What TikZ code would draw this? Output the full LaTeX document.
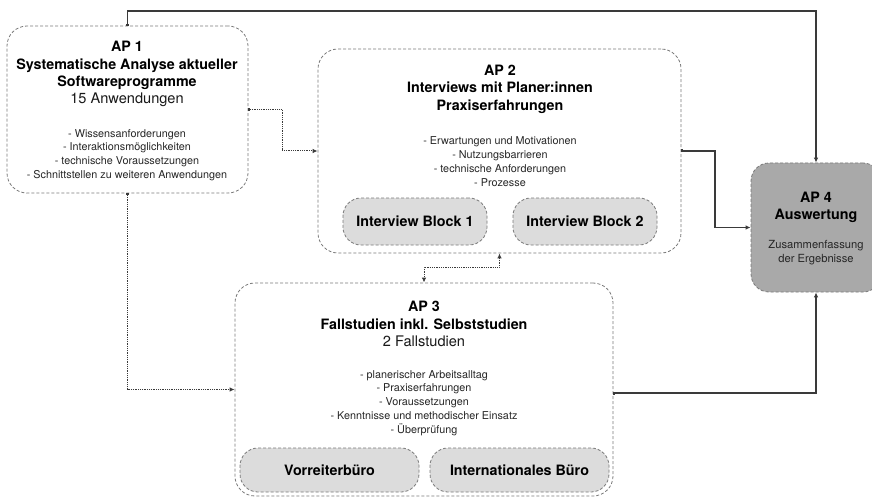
\documentclass[tikz,border=0pt]{standalone}
\usepackage{fontspec}
\setmainfont{TeX Gyre Heros}
\usetikzlibrary{arrows.meta}
\definecolor{bordergray}{HTML}{7A7A7A}
\definecolor{blockfill}{HTML}{DCDCDC}
\definecolor{apfourfill}{HTML}{A9A9A9}
\definecolor{linecol}{HTML}{3A3A3A}
\begin{document}
\begin{tikzpicture}[x=1pt,y=-1pt,
  apbox/.style={draw=bordergray, dash pattern=on 3pt off 2pt, line width=0.8pt, rounded corners=20pt, inner sep=0pt, fill=white},
  blockbox/.style={apbox, fill=blockfill, rounded corners=18pt},
  titletext/.style={font=\fontsize{14.3}{17.5}\selectfont\bfseries, align=center, inner sep=0pt},
  subtext/.style={font=\fontsize{14.6}{17}\selectfont, align=center, inner sep=0pt, text=black!90},
  itemtext/.style={font=\fontsize{10.8}{13.8}\selectfont, align=center, inner sep=0pt, text=black!85},
  smalltext/.style={font=\fontsize{11.2}{14}\selectfont, align=center, inner sep=0pt, text=black!85},
  solidcon/.style={draw=linecol, line width=1.1pt, {Square[length=2pt,width=3pt]}-{Latex[length=5pt,width=4.5pt]}},
  dotcon/.style={draw=linecol, line width=1pt, dash pattern=on 1pt off 0.8pt, {Square[length=2pt,width=3pt]}-{Latex[length=5pt,width=4.5pt]}},
  dotcontwo/.style={draw=linecol, line width=1pt, dash pattern=on 1pt off 0.8pt, {Latex[length=5pt,width=4.5pt]}-{Latex[length=5pt,width=4.5pt]}}
]
\fill[white] (0,0) rectangle (872,497);
\useasboundingbox (0,0) rectangle (872,497);
\clip (0,0) rectangle (872,497);

% boxes
\node[apbox, minimum width=241pt, minimum height=167pt] (ap1) at (127.5,109.5) {};
\node[apbox, minimum width=363pt, minimum height=204pt] (ap2) at (499.5,151) {};
\node[apbox, minimum width=378pt, minimum height=213pt] (ap3) at (424,389.5) {};
\node[apbox, fill=apfourfill, rounded corners=18pt, minimum width=130pt, minimum height=129pt] (ap4) at (816,227.5) {};

\node[blockbox, minimum width=144pt, minimum height=47pt] (ib1) at (415,221.5) {};
\node[blockbox, minimum width=144pt, minimum height=47pt] (ib2) at (585,221.5) {};
\node[blockbox, minimum width=179pt, minimum height=44pt] (vb) at (329.5,470) {};
\node[blockbox, minimum width=179pt, minimum height=44pt] (ib) at (519.5,470) {};

% texts
\node[titletext] (t1) at (127,65.5) {AP 1\\Systematische Analyse aktueller\\Softwareprogramme};
\node[subtext] (s1) at (127,100) {15 Anwendungen};
\node[itemtext] (i1) at (127,155) {- Wissensanforderungen\\- Interaktionsmöglichkeiten\\- technische Voraussetzungen\\- Schnittstellen zu weiteren Anwendungen};

\node[titletext] (t2) at (500,89) {AP 2\\Interviews mit Planer:innen\\Praxiserfahrungen};
\node[itemtext] (i2) at (500,161.5) {- Erwartungen und Motivationen\\- Nutzungsbarrieren\\- technische Anforderungen\\- Prozesse};

\node[titletext] (t3) at (424,315.5) {AP 3\\Fallstudien inkl. Selbststudien};
\node[subtext] (s3) at (424,341.5) {2 Fallstudien};
\node[itemtext] (i3) at (424,403) {- planerischer Arbeitsalltag\\- Praxiserfahrungen\\- Voraussetzungen\\- Kenntnisse und methodischer Einsatz\\- Überprüfung};

\node[titletext] (t4) at (816,207.5) {AP 4\\Auswertung};
\node[smalltext] (s4) at (816,253) {Zusammenfassung\\der Ergebnisse};

\node[titletext] (b1) at (ib1.center) {Interview Block 1};
\node[titletext] (b2) at (ib2.center) {Interview Block 2};
\node[titletext] (b3) at (vb.center) {Vorreiterbüro};
\node[titletext] (b4) at (ib.center) {Internationales Büro};

% connectors
\coordinate (topc) at (0,11);
\coordinate (m1) at (715,0);
\coordinate (m2) at (282,0);
\coordinate (m3) at (0,267);
\coordinate (r3) at (0,393);

\draw[solidcon] (ap1.north) -- (ap1.north |- topc) -| (ap4.north);
\draw[solidcon] (ap2.east) -- (ap2.east -| m1) |- (ap4.west);
\draw[solidcon] (ap3.east |- r3) -| (ap4.south);
\draw[dotcon] (ap1.east) -- (ap1.east -| m2) |- (ap2.west);
\draw[dotcon] (ap1.south) |- (ap3.west);
\draw[dotcontwo] (ap2.south) -- (ap2.south |- m3) -| (ap3.north);
\end{tikzpicture}
\end{document}
